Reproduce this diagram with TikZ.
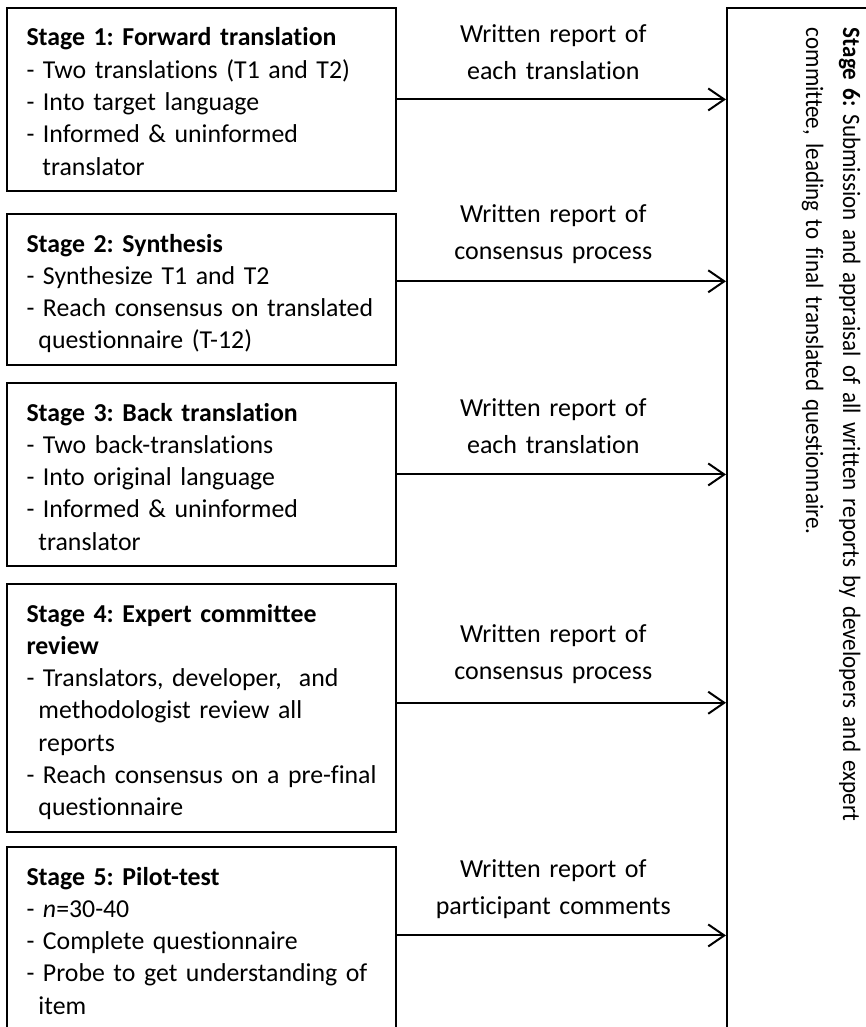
\documentclass[tikz,border=0pt]{standalone}
\usepackage{fontspec}
\setmainfont{Carlito}[Ligatures=NoCommon]
\newfontfamily\sidefamily{Carlito}[Ligatures=NoCommon,FakeStretch=0.92]
\usetikzlibrary{arrows.meta,calc}
\frenchspacing

\newcommand{\boxfont}{\fontsize{25.8pt}{32.3pt}\selectfont
  \hyphenpenalty=10000\exhyphenpenalty=10000}
\newcommand{\sidefont}{\sidefamily\fontsize{25pt}{37pt}\selectfont}
\newcommand{\labelfont}{\fontsize{26pt}{37pt}\selectfont}
\newcommand{\ind}{\hspace*{12pt}}

\tikzset{
  stagebox/.style={draw,line width=2pt,anchor=north west,text width=350pt,
    align=left,inner xsep=19.5pt,inner ysep=6pt,text height=32pt,
    font=\boxfont,execute at end node=\strut},
  report/.style={font=\labelfont,align=center,text width=260pt,anchor=base,
    inner sep=0pt},
  flow/.style={line width=2pt,-{Straight Barb[length=16pt,width=22pt,line width=2pt]}}
}

\begin{document}
\begin{tikzpicture}[x=1pt,y=-1pt]
  \useasboundingbox (0,0) rectangle (866,1027);
  \clip (0,0) rectangle (866,1027);

  % stages 1 to 5
  \node[stagebox] (s1) at (6,7) {\textbf{Stage 1: Forward translation}\\
    - Two translations (T1 and T2)\\
    - Into target language\\
    - Informed \& uninformed\\
    \hspace*{16pt}translator};
  \node[stagebox] (s2) at (6,213) {\textbf{Stage 2: Synthesis}\\
    - Synthesize T1 and T2\\
    -~Reach~consensus~on~translated\\
    \ind questionnaire (T-12)};
  \node[stagebox] (s3) at (6,382) {\textbf{Stage 3: Back translation}\\
    - Two back-translations\\
    - Into original language\\
    - Informed \& uninformed\\
    \ind translator};
  \node[stagebox] (s4) at (6,583) {\textbf{Stage 4: Expert committee}\\
    \textbf{review}\\
    - Translators, developer,~ and\\
    \ind methodologist review all\\
    \ind reports\\
    -~Reach~consensus~on~a~pre-final\\
    \ind questionnaire};
  \node[stagebox] (s5) at (6,846) {\textbf{Stage 5: Pilot-test}\\
    - \textit{n}=30-40\\
    - Complete questionnaire\\
    -~Probe~to~get~understanding~of\\
    \ind item};

  % stage 6, turned on its side
  \node[draw,line width=2pt,rotate=-90,anchor=base west,text width=1040pt,
    align=left,inner xsep=20pt,inner ysep=0pt,text height=40pt,
    text depth=116pt,font=\sidefont] (s6) at (843,7)
    {\textbf{Stage 6:} Submission and appraisal of all written reports by developers and expert\\
     committee, leading to final translated questionnaire.};

  % written reports
  \draw[flow] (s1.east) -- (s1.east -| s6.south)
    node[report,pos=.475,yshift=57pt] {Written report of\\each translation};
  \draw[flow] ([yshift=8pt]s2.east) -- ([yshift=8pt]s2.east -| s6.south)
    node[report,pos=.475,yshift=59pt] {Written report of\\consensus process};
  \draw[flow] (s3.east) -- (s3.east -| s6.south)
    node[report,pos=.475,yshift=58pt] {Written report of\\each translation};
  \draw[flow] ([yshift=5pt]s4.east) -- ([yshift=5pt]s4.east -| s6.south)
    node[report,pos=.475,yshift=60pt] {Written report of\\consensus process};
  \draw[flow] ([yshift=3pt]s5.east) -- ([yshift=3pt]s5.east -| s6.south)
    node[report,pos=.475,yshift=58pt] {Written report of\\participant comments};
\end{tikzpicture}
\end{document}
